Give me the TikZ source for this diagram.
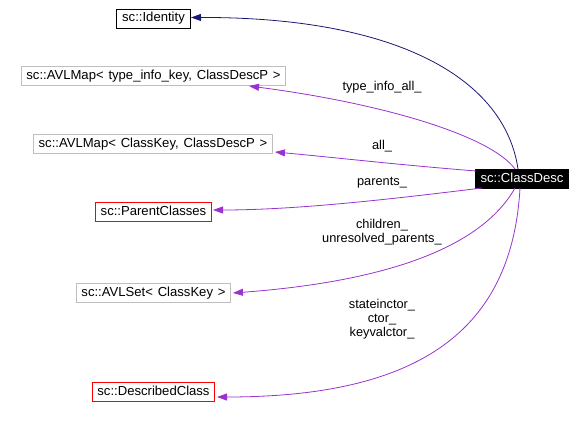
\documentclass[tikz,border=0pt]{standalone}
\usepackage{fontspec}
\setmainfont{Liberation Sans}
\usetikzlibrary{arrows.meta}
\definecolor{edgep}{HTML}{9A32CD}
\definecolor{edgen}{HTML}{191970}
\definecolor{boxgray}{HTML}{BFBFBF}
\newcommand\clswide{\spaceskip=4.8pt\relax}
\tikzset{
  cls/.style={draw, line width=0.9pt, minimum height=19pt, inner xsep=5.3pt, inner ysep=0pt,
     font=\fontsize{13.1}{14}\selectfont, text height=9.5pt, text depth=2.5pt,
     execute at begin node=\clswide},
  grayb/.style={cls, draw=boxgray},
  redb/.style={cls, draw=red},
  blackb/.style={cls, draw=black},
  mainb/.style={cls, draw=black, fill=black, text=white},
  lbl/.style={font=\fontsize{12.8}{14}\selectfont, align=center, inner sep=0pt},
  pe/.style={draw=edgep, line width=0.8pt, -{Triangle[length=10pt,width=7pt]}},
  ne/.style={draw=edgen, line width=0.8pt, -{Triangle[length=10pt,width=7pt]}},
}
\begin{document}
\begin{tikzpicture}[x=1pt,y=-1pt]
\useasboundingbox (0,0) rectangle (585,422);
\node[blackb] (id) at (153.5,18.5) {sc::Identity};
\node[grayb] (tik) at (153.5,76) {sc::AVLMap< type\_info\_key, ClassDescP >};
\node[grayb] (ck) at (153,144) {sc::AVLMap< ClassKey, ClassDescP >};
\node[redb] (pc) at (153.5,211.5) {sc::ParentClasses};
\node[grayb] (set) at (153.5,293) {sc::AVLSet< ClassKey >};
\node[redb] (dc) at (153.5,391.5) {sc::DescribedClass};
\node[mainb] (cd) at (522,178.5) {sc::ClassDesc};

\coordinate (s1) at (518,169);
\coordinate (s2) at (515,169);
\coordinate (s3) at (476,171);
\coordinate (s4) at (482,188);
\coordinate (s5) at (515,188);
\coordinate (s6) at (520,188);
\coordinate (t1) at (191,17.5);
\coordinate (t2) at (249,86);
\coordinate (t3) at (275,152);
\coordinate (t4) at (213,210);
\coordinate (t5) at (233,293);
\coordinate (t6) at (217,397);

\draw[ne] (s1) .. controls (505,80) and (400,17) .. (t1);
\draw[pe] (s2) .. controls (490,135) and (380,103) .. (t2);
\draw[pe] (s3) .. controls (400,165) and (330,157) .. (t3);
\draw[pe] (s4) .. controls (400,198) and (300,210) .. (t4);
\draw[pe] (s5) .. controls (480,250) and (380,282) .. (t5);
\draw[pe] (s6) .. controls (512,330) and (420,397) .. (t6);

\node[lbl] (l1) at (382,87) {type\_info\_all\_};
\node[lbl] (l2) at (382,146) {all\_};
\node[lbl] (l3) at (382,183) {parents\_};
\node[lbl] (l4) at (382,232) {children\_\\unresolved\_parents\_};
\node[lbl] (l5) at (382,319) {stateinctor\_\\ctor\_\\keyvalctor\_};
\end{tikzpicture}
\end{document}
